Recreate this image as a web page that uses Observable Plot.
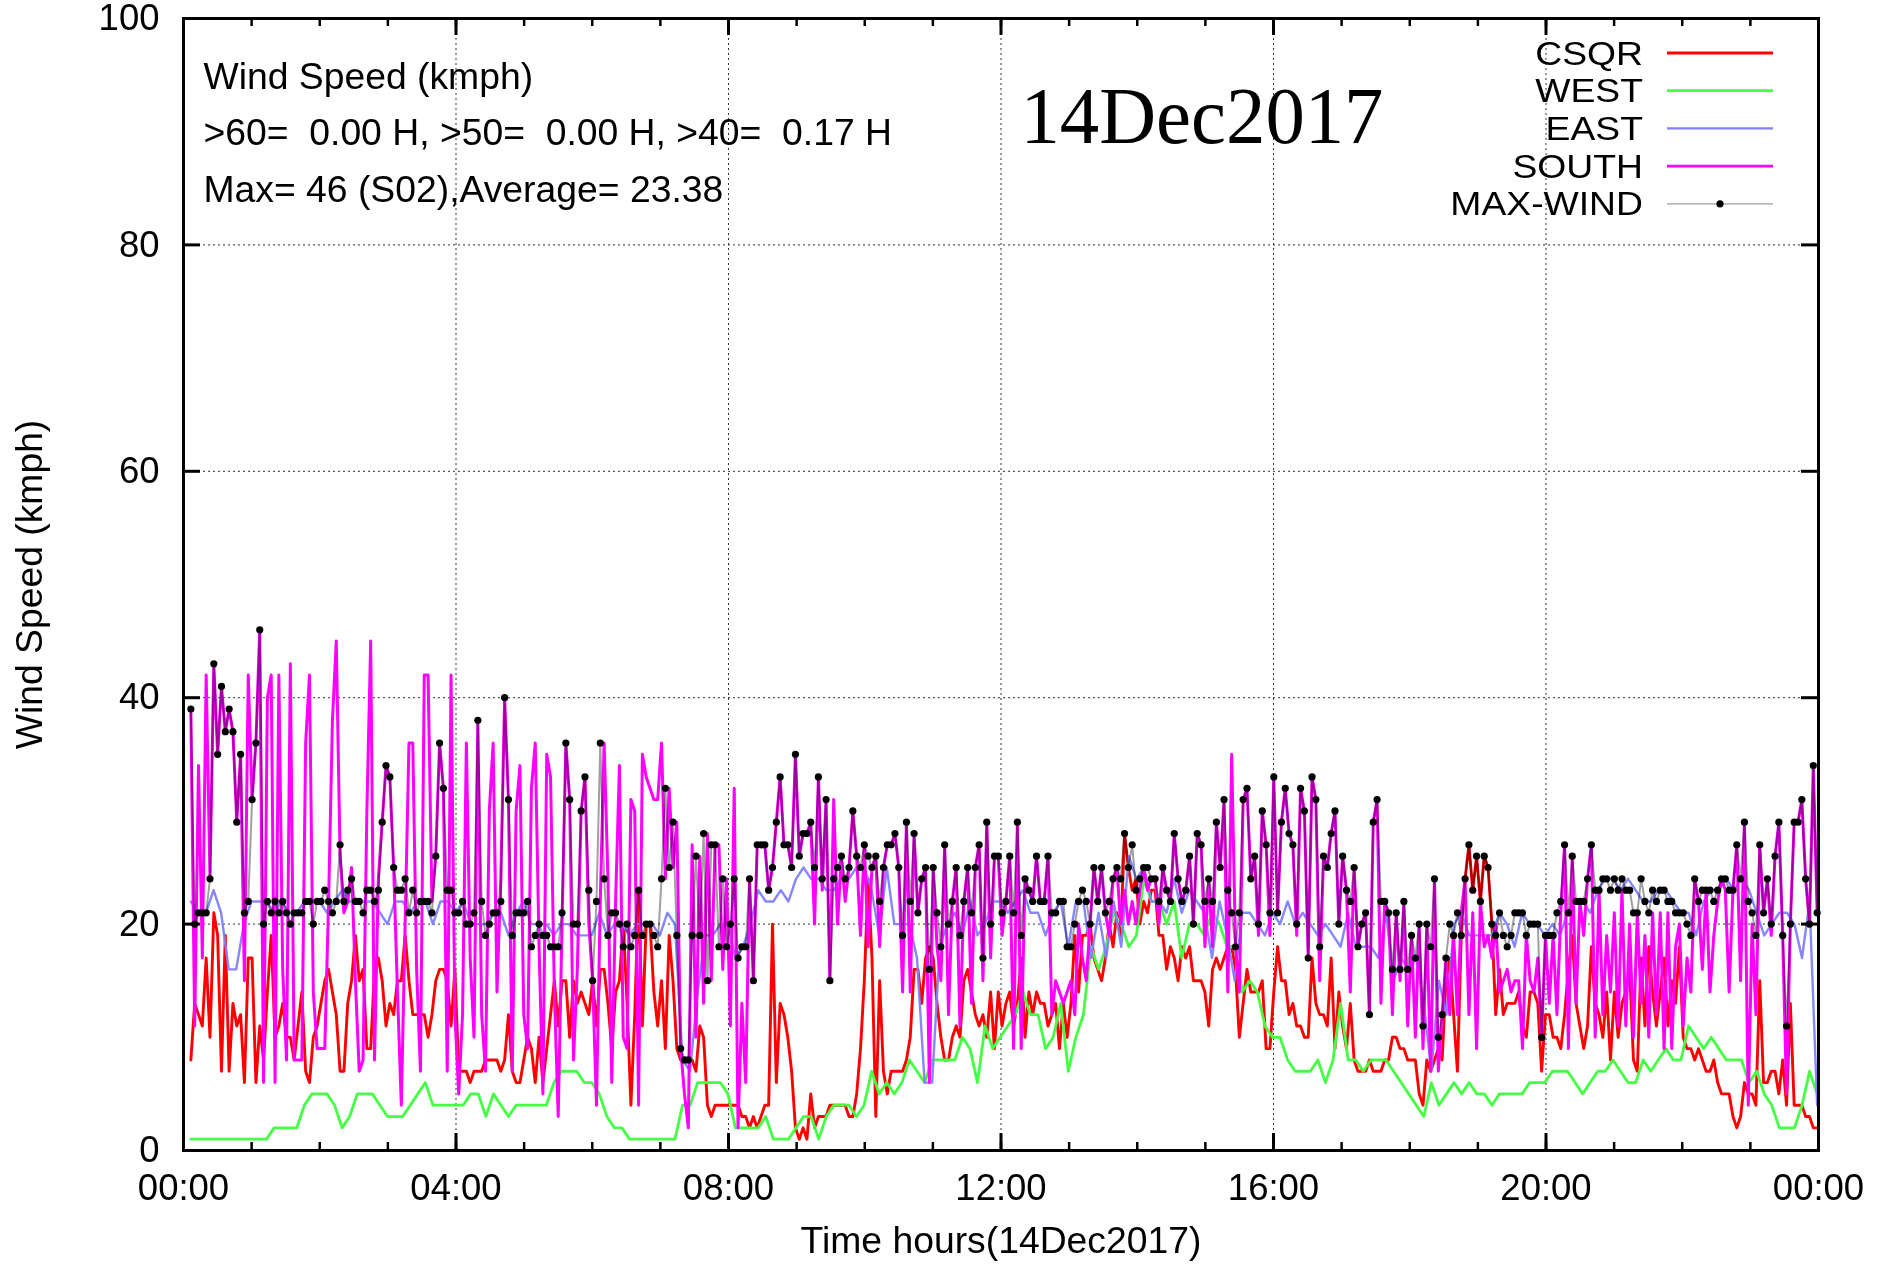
<!DOCTYPE html>
<html>
<head>
<meta charset="utf-8">
<script src="https://cdn.jsdelivr.net/npm/d3@7"></script>
<script src="https://cdn.jsdelivr.net/npm/@observablehq/plot@0.6"></script>
<style>
html, body { margin: 0; padding: 0; background: #fff; }
#chart svg text { white-space: pre; }
</style>
</head>
<body>
<div id="chart"></div>
<script>
// ---- data (hours of first / last sample; samples evenly spaced between) ----
const T0 = 0.108, T1 = 23.98;

const maxWind = [
39,20,21,21,21,24,43,35,41,37,39,37,29,35,21,22,31,36,46,20,
22,21,22,21,22,21,20,21,21,21,22,22,20,22,22,23,22,21,22,27,
22,23,24,22,22,21,23,23,22,23,29,34,33,25,23,23,24,21,23,21,
22,22,22,21,26,36,32,23,23,21,21,
22,20,20,21,38,22,19,20,21,21,22,40,31,19,21,21,21,22,18,19,
20,19,19,18,18,18,21,36,31,20,20,30,33,23,15,22,36,24,19,21,
21,20,18,20,18,19,23,19,20,20,19,18,24,32,25,29,19,9,8,8,
19,26,19,28,15,27,27,18,24,18,20,24,
17,18,18,24,15,27,27,27,23,25,29,33,27,27,25,35,26,28,28,29,
25,33,24,31,15,24,25,26,24,25,30,26,25,27,26,25,26,22,25,27,
27,28,25,19,29,22,28,21,24,25,16,25,21,18,27,20,22,25,19,22,
25,21,25,27,17,29,20,26,26,21,22,
26,21,29,19,24,23,22,26,22,22,26,21,21,22,22,18,18,20,22,23,
22,20,25,22,25,21,22,24,25,24,28,25,27,23,24,25,25,24,24,22,
25,23,22,28,24,22,23,26,20,28,27,22,24,22,29,25,31,23,21,18,
21,31,32,24,26,20,30,27,21,
33,21,29,32,28,27,20,32,30,17,33,31,18,26,25,28,30,20,26,23,
22,25,18,20,21,12,29,31,22,22,21,16,21,16,22,16,19,17,20,11,
20,18,24,10,12,17,20,19,21,19,24,27,23,26,22,26,25,20,19,21,
19,18,19,21,21,21,19,20,20,20,10,
19,19,19,21,22,27,21,26,22,22,22,24,27,23,23,24,24,23,24,23,
24,23,23,21,21,24,22,21,23,22,23,23,22,22,21,21,21,20,19,24,
22,23,23,23,22,23,24,24,23,23,27,24,29,22,21,19,27,21,24,20,
26,29,19,11,20,29,29,31,24,20,34,21
];

const south = [
39,11,34,17,42,24,43,35,41,37,39,37,29,35,15,42,31,36,46,6,
40,42,6,42,16,8,43,8,8,8,36,42,14,9,9,9,22,38,45,26,
21,22,25,15,7,8,30,45,8,24,29,34,33,25,14,4,20,36,36,16,
7,42,42,22,26,36,32,7,42,12,5,
12,36,17,10,38,12,7,30,36,14,24,40,31,7,30,34,12,9,32,36,
18,5,35,33,14,3,20,36,31,8,16,30,33,20,15,4,22,36,24,6,
22,34,10,9,31,30,4,35,33,32,31,31,36,24,32,25,29,9,5,2,
27,10,26,13,28,15,27,27,16,24,11,32,
2,13,6,24,15,27,27,27,23,25,29,33,27,27,25,35,26,28,28,29,
20,33,23,31,15,31,20,26,22,25,30,26,19,27,18,25,26,18,25,27,
27,28,25,14,29,14,28,21,24,25,6,25,18,15,27,12,22,25,11,22,
25,13,25,27,15,29,17,26,26,19,22,
26,9,29,9,24,23,22,26,22,22,26,12,15,14,13,14,15,12,20,17,
15,20,25,22,25,21,19,24,25,20,23,20,22,20,23,25,23,24,24,20,
25,23,22,28,24,22,23,26,20,28,27,18,24,18,29,25,31,14,35,18,
14,31,32,24,26,19,30,27,19,
33,21,29,32,28,27,19,32,30,17,33,31,15,26,25,28,30,20,26,23,
14,25,18,20,21,12,29,31,13,22,21,12,21,15,22,11,19,10,20,9,
20,7,24,7,12,17,12,19,12,21,24,12,21,9,22,18,19,17,20,14,
15,16,14,15,15,9,19,15,14,17,10,
19,13,19,12,21,27,9,26,13,22,19,24,27,10,23,12,19,14,21,11,
23,11,20,10,21,13,19,10,21,12,21,9,21,9,18,20,11,17,14,24,
22,16,23,14,19,22,24,23,14,23,27,15,29,4,20,12,27,21,24,19,
26,29,19,5,20,29,29,31,24,20,34,21
];

const csqr = [
8,13,12,11,17,10,21,19,7,19,7,13,11,12,6,17,17,6,11,8,
14,19,10,11,13,10,10,8,11,14,7,6,10,11,13,15,16,14,12,7,
7,13,15,19,15,16,9,9,16,17,15,11,13,12,15,15,19,15,12,12,
12,12,10,12,15,16,16,15,11,16,7,
7,7,6,7,7,7,8,8,8,8,7,8,12,7,6,6,8,10,9,6,
10,6,9,12,15,11,15,15,10,15,13,14,13,12,15,11,16,16,13,9,
14,15,20,13,4,12,23,11,20,20,14,11,15,9,19,15,9,8,8,8,
8,7,11,10,4,3,4,4,4,4,4,4,
4,3,3,2,3,2,3,4,4,20,6,13,12,10,7,2,1,2,1,5,
2,3,3,3,4,4,4,4,4,3,3,5,9,15,24,17,3,15,7,5,
7,7,7,7,8,10,16,16,13,17,18,17,13,10,8,8,10,11,10,15,
16,14,12,11,12,10,14,9,14,11,13,
14,11,13,17,10,14,12,14,13,13,11,12,13,9,13,10,13,19,14,19,
19,20,17,16,15,17,20,18,21,19,28,25,23,24,20,22,21,23,23,19,
19,16,18,17,15,18,17,18,15,15,15,14,11,16,17,16,17,18,18,16,
10,13,16,14,14,14,15,9,9,
14,18,15,15,12,13,11,11,10,10,17,13,12,12,11,17,9,14,11,9,
13,8,7,7,7,8,7,7,7,8,8,10,10,9,9,8,8,8,5,4,
8,7,8,9,8,15,17,12,7,19,24,27,23,26,22,26,25,20,12,16,
12,13,13,13,14,11,10,14,14,13,7,
12,12,10,10,9,12,16,19,13,11,9,11,18,13,12,10,14,8,14,10,
13,14,16,8,7,17,11,18,14,11,14,17,11,15,13,18,10,9,9,8,
9,8,7,7,8,6,5,5,5,3,2,3,6,5,5,4,15,6,6,7,
7,5,8,4,13,4,4,4,3,3,2,2
];

const west = [
1,1,1,1,1,1,1,1,1,1,1,2,2,2,2,4,5,5,5,4,2,3,5,5,5,4,3,3,3,4,5,6,4,4,4,4,
4,5,5,3,5,4,3,4,4,4,4,4,6,7,7,7,6,6,5,3,2,2,1,1,1,1,1,1,1,4,4,6,6,6,6,5,
2,2,2,2,3,1,1,1,2,3,3,1,3,4,4,4,3,4,7,5,6,5,6,8,7,6,8,8,8,8,10,9,6,11,9,10,
11,12,14,12,12,9,10,13,7,10,12,18,16,18,21,20,18,19,24,22,22,20,22,17,20,20,19,21,20,18,18,14,15,14,11,10,
10,8,7,7,7,8,6,8,13,8,8,7,8,8,8,7,6,5,4,3,6,4,5,6,5,6,5,5,4,5,5,5,5,6,6,6,
7,7,7,6,5,6,7,7,8,7,6,6,8,7,8,9,8,8,11,10,9,10,9,8,8,8,6,7,5,4,2,2,2,4,7,5
];

const east = [
22,21,21,23,21,16,16,20,22,22,22,21,22,21,21,22,22,22,21,22,23,22,22,22,22,21,20,22,22,21,22,22,20,22,22,21,
22,20,20,20,21,21,19,21,22,20,20,20,19,20,20,19,19,19,21,19,20,20,19,20,20,20,19,21,20,8,7,14,19,19,20,20,
17,18,20,23,22,22,23,22,24,25,24,24,23,23,24,24,25,25,23,19,25,20,20,20,17,6,6,18,20,21,19,22,19,20,22,22,
21,22,23,21,21,19,21,22,18,22,22,17,21,17,22,18,26,24,25,22,22,21,24,21,23,22,21,17,22,19,15,21,21,20,19,21,
20,22,20,21,20,19,20,19,18,21,18,18,18,17,21,15,17,16,17,13,7,15,12,20,21,19,19,19,19,21,20,18,21,20,20,19,
20,19,21,22,22,21,23,24,24,23,24,23,22,22,23,23,22,21,21,19,22,23,23,24,23,24,23,21,19,20,21,21,20,17,22,4
];

const xTicks = [0, 4, 8, 12, 16, 20, 24];
const yTicks = [0, 20, 40, 60, 80, 100];
const hourTicks = d3.range(0, 25, 1);
const legendNames = ["CSQR", "WEST", "EAST", "SOUTH", "MAX-WIND"];
const legendColors = ["#ff0000", "#44ff44", "#8080ff", "#ff00ff", "#a0a0a0"];
const infoLines = ["Wind Speed (kmph)", ">60=  0.00 H, >50=  0.00 H, >40=  0.17 H", "Max= 46 (S02),Average= 23.38"];
const dateTitle = "14Dec2017";
const xLabel = "Time hours(14Dec2017)";
const yLabel = "Wind Speed (kmph)";

// ---- layout ----
const W = 1886, H = 1264, mL = 183, mR = 68, mT = 18, mB = 114;
const PW = W - mL - mR, PH = H - mT - mB;
const FS = 37.3, LEG_FS = 33.4;
const sans = "'Liberation Sans', Arial, Helvetica, sans-serif";
const serif = "'Liberation Serif', 'Times New Roman', serif";

const rows = vals => vals.map((v, i) => ({t: T0 + i * (T1 - T0) / (vals.length - 1), v}));
const fmt = h => String(h % 24).padStart(2, "0") + ":00";

const plot = Plot.plot({
  width: W, height: H,
  marginLeft: mL, marginRight: mR, marginTop: mT, marginBottom: mB,
  style: {fontFamily: sans, fontSize: "36.5px", background: "#fff", color: "#000", overflow: "visible"},
  x: {domain: [0, 24], ticks: xTicks, tickFormat: fmt, tickSize: 0, tickPadding: 24, label: null},
  y: {domain: [0, 100], ticks: yTicks, tickSize: 0, tickPadding: 24, label: null},
  marks: [
    Plot.ruleY(yTicks.slice(1, -1), {stroke: "#333", strokeWidth: 1, strokeDasharray: "2,3"}),
    Plot.ruleX(xTicks.slice(1, -1), {stroke: "#333", strokeWidth: 1, strokeDasharray: "2,3"}),
    Plot.line(rows(csqr), {x: "t", y: "v", stroke: legendColors[0], strokeWidth: 2.9}),
    Plot.line(rows(west), {x: "t", y: "v", stroke: legendColors[1], strokeWidth: 2.8}),
    Plot.line(rows(east), {x: "t", y: "v", stroke: legendColors[2], strokeWidth: 2.4, strokeOpacity: 0.95}),
    Plot.line(rows(south), {x: "t", y: "v", stroke: legendColors[3], strokeWidth: 3}),
    Plot.line(rows(maxWind), {x: "t", y: "v", stroke: legendColors[4], strokeWidth: 2, mixBlendMode: "multiply"}),
    Plot.dot(rows(maxWind), {x: "t", y: "v", r: 3.6, fill: "#000", stroke: null}),
    // inward tick marks
    Plot.ruleX(hourTicks, {insetTop: PH - 8, stroke: "#000", strokeWidth: 2.5}),
    Plot.ruleX(hourTicks, {insetBottom: PH - 8, stroke: "#000", strokeWidth: 2.5}),
    Plot.ruleX(xTicks, {insetTop: PH - 17, stroke: "#000", strokeWidth: 3}),
    Plot.ruleX(xTicks, {insetBottom: PH - 17, stroke: "#000", strokeWidth: 3}),
    Plot.ruleY(yTicks, {insetRight: PW - 17, stroke: "#000", strokeWidth: 3}),
    Plot.ruleY(yTicks, {insetLeft: PW - 17, stroke: "#000", strokeWidth: 3}),
    Plot.frame({stroke: "#000", strokeWidth: 3}),
    // info lines
    ...infoLines.map((s, i) => Plot.text([s], {frameAnchor: "top-left", textAnchor: "start", lineAnchor: "top",
      dx: 20, dy: 44 + i * 56.5, fontSize: FS, fill: "#000"})),
    Plot.text([dateTitle], {frameAnchor: "top-left", textAnchor: "start", lineAnchor: "top",
      dx: 837, dy: 68, fontSize: 80, fontFamily: serif, fill: "#000"}),
    Plot.text([xLabel], {frameAnchor: "bottom", textAnchor: "middle", lineAnchor: "middle", dy: 91, fontSize: FS, fill: "#000"}),
    Plot.text([yLabel], {frameAnchor: "left", textAnchor: "middle", lineAnchor: "middle", dx: -153, rotate: -90, fontSize: FS, fill: "#000"})
  ]
});

document.getElementById("chart").appendChild(plot);

const svg = d3.select(plot);
svg.selectAll("text").filter(function() { return this.textContent === dateTitle; })
  .attr("textLength", 363).attr("lengthAdjust", "spacingAndGlyphs");

// legend (top right, inside the frame)
const lg = svg.append("g").attr("font-family", sans);
const textRight = W - mR - 175, lineX1 = W - mR - 151, lineX2 = W - mR - 45, dotX = W - mR - 98;
legendNames.forEach((name, i) => {
  const cy = mT + 35 + i * 37.7;
  const t = lg.append("text").attr("x", textRight).attr("y", cy).attr("dy", "0.35em")
    .attr("text-anchor", "end").attr("fill", "#000").attr("font-size", FS).text(name);
  // keep the reference width, with a slightly smaller glyph height so rows do not collide
  const w = t.node().getComputedTextLength();
  t.attr("font-size", LEG_FS).attr("textLength", w).attr("lengthAdjust", "spacingAndGlyphs");
  lg.append("line").attr("x1", lineX1).attr("x2", lineX2).attr("y1", cy).attr("y2", cy)
    .attr("stroke", legendColors[i]).attr("stroke-width", i === 4 ? 1.3 : (i === 2 ? 2.4 : 2.8));
  if (i === 4) lg.append("circle").attr("cx", dotX).attr("cy", cy).attr("r", 3.6).attr("fill", "#000");
});
</script>
</body>
</html>
